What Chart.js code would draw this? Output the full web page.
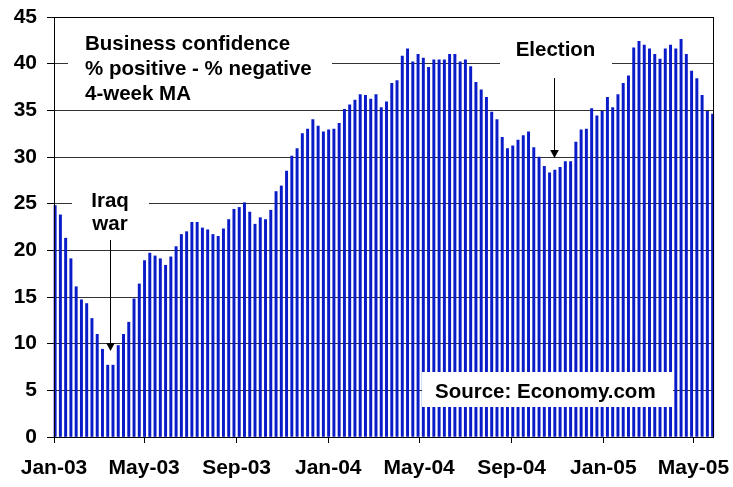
<!DOCTYPE html>
<html><head><meta charset="utf-8">
<script src="https://cdn.jsdelivr.net/npm/chart.js@4"></script>
<style>html,body{margin:0;padding:0;background:#fff}canvas{display:block}</style>
</head><body>
<canvas id="c" width="733" height="487"></canvas>
<script>
// Weekly business confidence, 4-week moving average (% positive - % negative)
const values = [
  24.8, 23.8, 21.3, 19.1, 16.1, 14.7, 14.3, 12.7, 11.0, 9.4, 7.7, 7.7,
  9.8, 11.0, 12.3, 14.8, 16.4, 18.9, 19.7, 19.4, 19.1, 18.4, 19.3, 20.4,
  21.7, 22.0, 23.0, 23.0, 22.4, 22.2, 21.7, 21.5, 22.3, 23.3, 24.4, 24.6,
  25.1, 24.1, 22.8, 23.5, 23.3, 24.3, 26.3, 26.9, 28.5, 30.1, 30.9, 32.5,
  33.0, 34.0, 33.3, 32.7, 32.9, 33.0, 33.6, 35.1, 35.6, 36.1, 36.7, 36.6,
  36.2, 36.7, 35.3, 35.9, 37.9, 38.2, 40.8, 41.6, 40.2, 41.0, 40.6, 39.6,
  40.4, 40.4, 40.4, 41.0, 41.0, 40.2, 40.4, 39.7, 38.0, 37.2, 36.4, 34.8,
  34.0, 32.1, 30.9, 31.2, 31.8, 32.3, 32.7, 31.0, 30.0, 29.0, 28.3, 28.6,
  28.9, 29.5, 29.5, 31.6, 32.9, 33.0, 35.2, 34.4, 34.9, 36.4, 35.3, 36.7,
  37.9, 38.7, 41.7, 42.4, 42.0, 41.6, 41.0, 40.5, 41.6, 42.0, 41.6, 42.6,
  41.0, 39.2, 38.4, 36.6, 34.9, 34.6
];
const firstWeek = '2003-01-02';
const axisStart = '2003-01-01';
const axisEnd = '2005-05-27';
const weeks = values.map((_, i) => new Date(Date.parse(firstWeek) + i * 7 * 864e5).toISOString().slice(0, 10));
const tickDates = ['2003-01-01','2003-05-01','2003-09-01','2004-01-01','2004-05-01','2004-09-01','2005-01-01','2005-05-01'];
const tickLabels = ['Jan-03','May-03','Sep-03','Jan-04','May-04','Sep-04','Jan-05','May-05'];
const yTickValues = [0, 5, 10, 15, 20, 25, 30, 35, 40, 45];
const titleLines = ['Business confidence', '% positive - % negative', '4-week MA'];
const iraqLines = ['Iraq', 'war'];
const electionText = 'Election';
const sourceText = 'Source: Economy.com';

const dayOf = s => (Date.parse(s) - Date.parse(axisStart)) / 864e5;
const FAM = "'Liberation Sans', Arial, sans-serif";

function arrow(ctx, x, y1, y2) {
  ctx.beginPath(); ctx.moveTo(x, y1); ctx.lineTo(x, y2 - 7); ctx.stroke();
  ctx.beginPath(); ctx.moveTo(x - 4.3, y2 - 8); ctx.lineTo(x + 4.3, y2 - 8); ctx.lineTo(x, y2); ctx.closePath(); ctx.fill();
}

const notes = {
  id: 'notes',
  afterDatasetsDraw(chart) {
    const { ctx, chartArea: a } = chart;
    ctx.save();
    ctx.fillStyle = '#fff';
    ctx.fillRect(68, 24, 264, 80);     // title box
    ctx.fillRect(72, 183, 77, 55);     // Iraq war box
    ctx.fillRect(500, 30, 112, 42);    // Election box
    ctx.fillRect(422, 372, 251, 35);   // Source box
    ctx.fillStyle = '#000';
    ctx.strokeStyle = '#000';
    ctx.lineWidth = 1;
    ctx.font = 'bold 20.5px ' + FAM;
    ctx.textBaseline = 'alphabetic';
    ctx.textAlign = 'left';
    titleLines.forEach((t, i) => ctx.fillText(t, 85, 49.5 + i * 25));
    ctx.fillText(sourceText, 435, 397.5);
    ctx.textAlign = 'center';
    ctx.fillText(iraqLines[0], 110, 206.5);
    ctx.fillText(iraqLines[1], 110, 230);
    ctx.fillText(electionText, 555.5, 55.5);
    arrow(ctx, 110.5, 240, 351);
    arrow(ctx, 554.5, 78, 158);
    // plot border
    ctx.strokeRect(Math.round(a.left) + 0.5, Math.round(a.top) + 0.5, Math.round(a.right - a.left), Math.round(a.bottom - a.top));
    ctx.restore();
  }
};

new Chart(document.getElementById('c'), {
  type: 'bar',
  data: {
    datasets: [{
      data: values.map((v, i) => ({ x: dayOf(weeks[i]) + 0.5, y: v })),
      backgroundColor: '#0a1cc8',
      borderWidth: 0,
      barThickness: 2.3,
      clip: 3
    }]
  },
  options: {
    responsive: false,
    animation: false,
    devicePixelRatio: 1,
    layout: { padding: { top: 17, right: 20, left: 0, bottom: 0 } },
    plugins: { legend: { display: false }, tooltip: { enabled: false } },
    scales: {
      x: {
        type: 'linear',
        min: 0,
        max: dayOf(axisEnd),
        offset: false,
        afterFit: s => { s.height = 50; s.paddingLeft = 0; s.paddingRight = 0; },
        afterBuildTicks: s => { s.ticks = tickDates.map(d => ({ value: dayOf(d) })); },
        ticks: {
          autoSkip: false, maxRotation: 0, padding: 13, color: '#000',
          font: { family: FAM, size: 21, weight: 'bold' },
          callback: (v, i) => tickLabels[i]
        },
        grid: { offset: false, drawOnChartArea: false, drawTicks: true, tickLength: 6, color: '#000' },
        border: { display: true, color: '#000', width: 1 }
      },
      y: {
        min: 0, max: 45,
        afterFit: s => { s.width = 54; s.paddingTop = 0; s.paddingBottom = 0; },
        afterBuildTicks: s => { s.ticks = yTickValues.map(v => ({ value: v })); },
        ticks: {
          padding: 10, color: '#000',
          font: { family: FAM, size: 21, weight: 'bold' }
        },
        grid: { color: '#333', lineWidth: 1, tickLength: 7, tickColor: '#000' },
        border: { display: true, color: '#000', width: 1 }
      }
    }
  },
  plugins: [notes]
});
</script>
</body></html>
